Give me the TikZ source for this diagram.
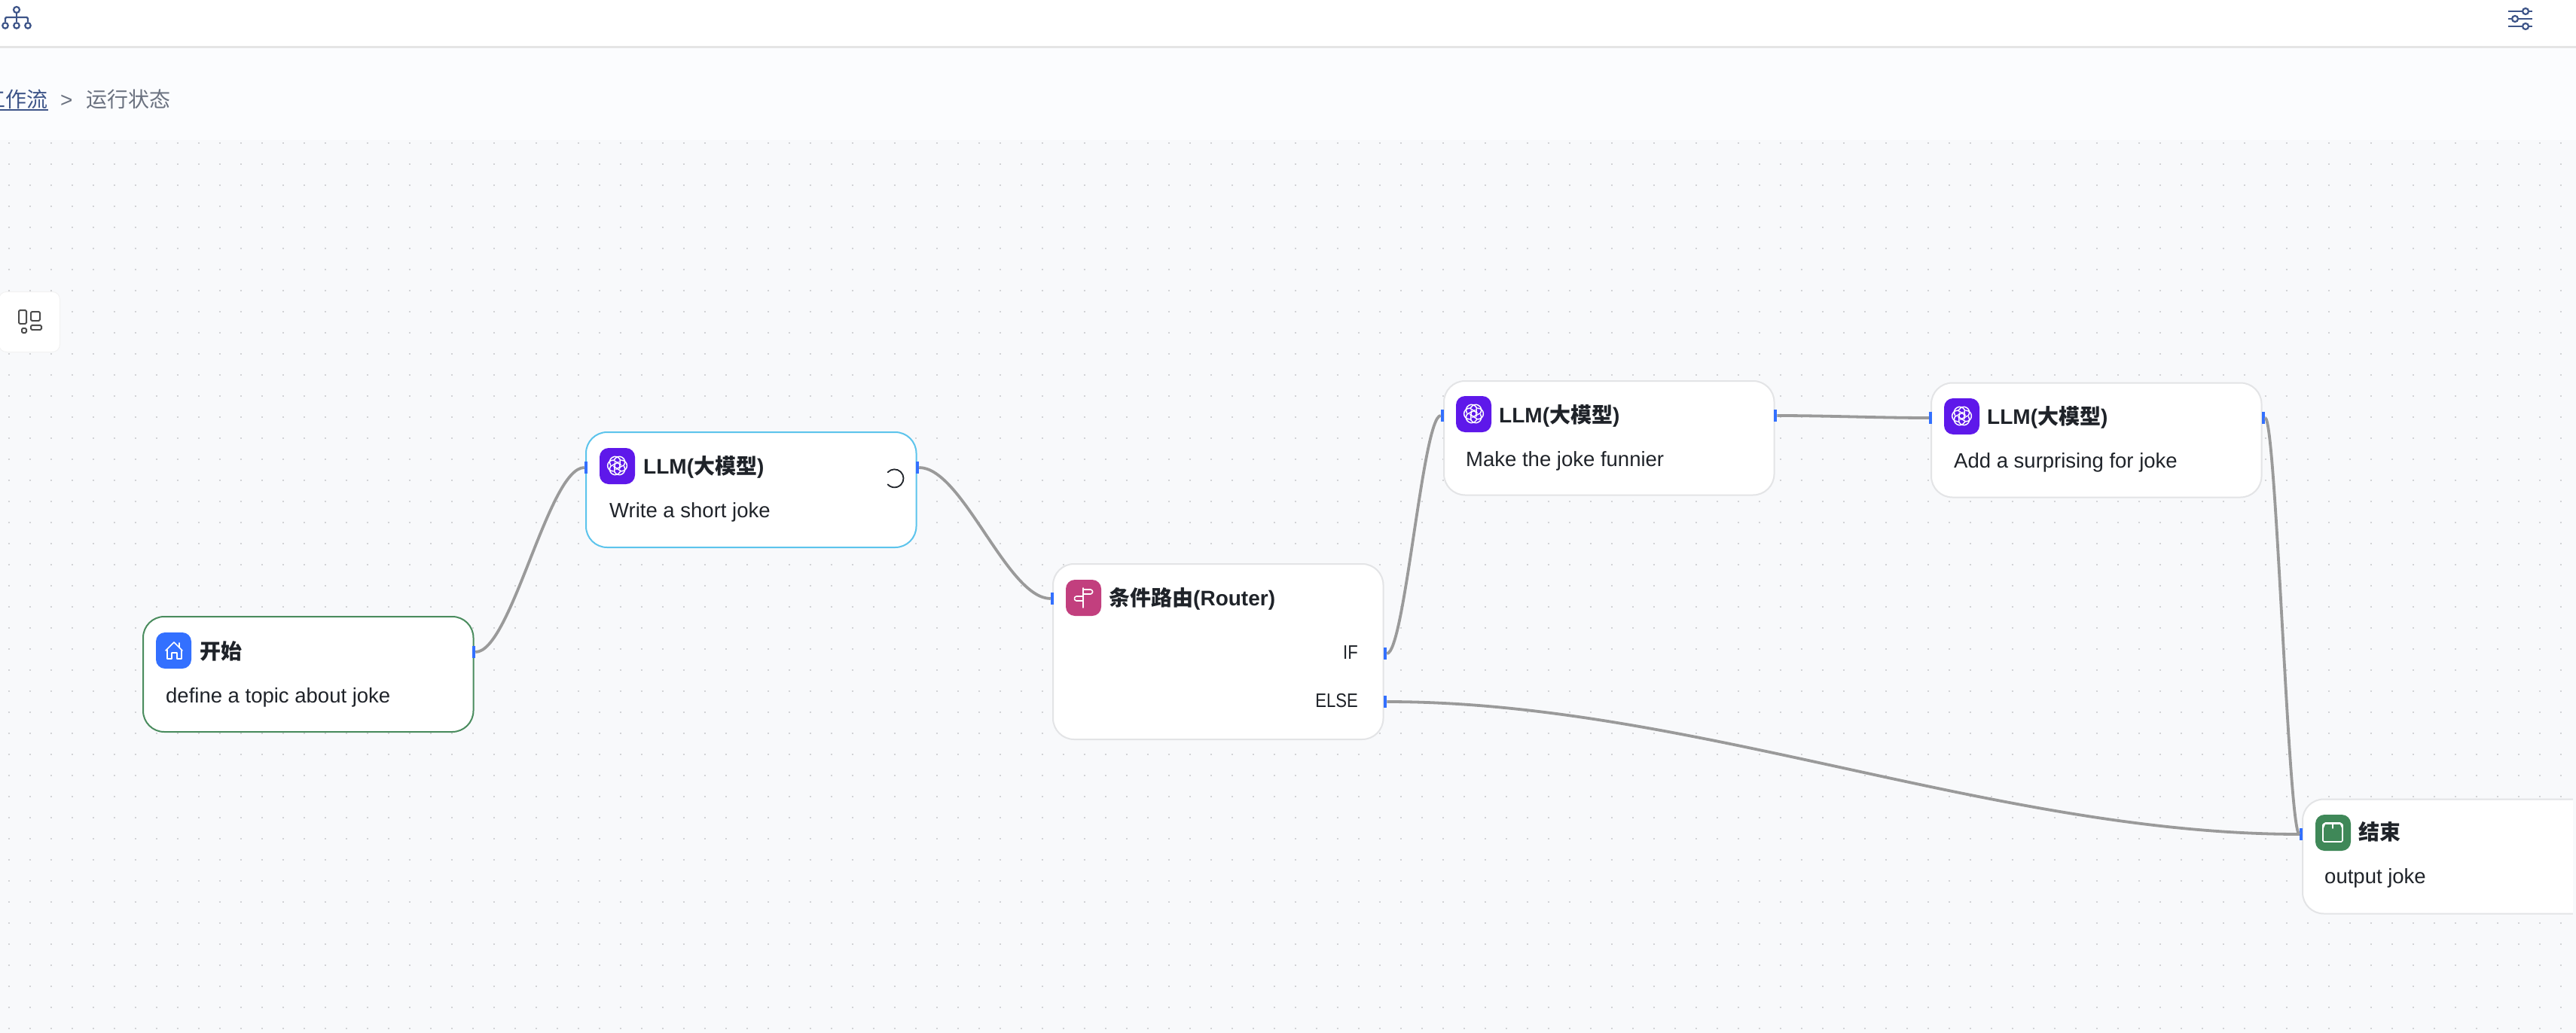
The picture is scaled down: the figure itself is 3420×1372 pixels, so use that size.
\documentclass[tikz,border=0pt]{standalone}
\usepackage{fontspec}
\setmainfont{Liberation Sans}
\newfontfamily\cjk{Noto Sans CJK SC}
\definecolor{canvasbg}{HTML}{F8F9FB}
\definecolor{pagebg}{HTML}{FBFCFE}
\definecolor{headline}{HTML}{E5E5E5}
\definecolor{navy}{HTML}{3D5488}
\definecolor{crumb}{HTML}{6B7280}
\definecolor{dotc}{HTML}{D2D3D6}
\definecolor{port}{HTML}{3370FF}
\definecolor{edgec}{HTML}{9A9A9A}
\definecolor{ink}{HTML}{1F2329}
\definecolor{cardline}{HTML}{E3E4E6}
\definecolor{okline}{HTML}{4A8C5E}
\definecolor{runline}{HTML}{5CC4EC}
\definecolor{llmc}{HTML}{5E18EA}
\definecolor{homec}{HTML}{3370FF}
\definecolor{routec}{HTML}{C23F7E}
\definecolor{endc}{HTML}{3F8858}
\tikzset{
  x=1pt,y=-1pt,
  card/.style={draw=cardline,line width=2pt,fill=white,rounded corners=28pt,inner sep=0pt,outer sep=0pt,
    minimum width=438.5pt,minimum height=152pt,anchor=north west},
  portbox/.style={fill=port,inner sep=0pt,outer sep=0pt,minimum width=4.5pt,minimum height=16pt},
  iconbox/.style={inner sep=0pt,outer sep=0pt,rounded corners=12pt,minimum width=47pt,minimum height=48pt,anchor=north west},
  title/.style={anchor=base west,inner sep=0pt,text=ink,font=\fontsize{28}{30}\selectfont\bfseries},
  desc/.style={anchor=base west,inner sep=0pt,text=ink,font=\fontsize{27.5}{30}\selectfont},
  portlabel/.style={anchor=base east,inner sep=0pt,text=ink,font=\fontsize{26}{30}\selectfont},
  link/.style={draw=edgec,line width=3.8pt},
  glyph/.style={draw=white,line width=1.6pt,line join=round,line cap=round},
  toolglyph/.style={draw=navy,line width=2.2pt},
  dotrow/.style={draw=dotc,line width=2pt,dash pattern=on 2pt off 26pt},
}
\newcommand{\openlogo}[2]{%
  \foreach \a in {0,60,120,180,240,300}{%
    \draw[glyph,line width=1.5pt,shift={(#1,#2)},rotate=\a] (-55:9) .. controls (-25:17) and (25:17) .. (55:9) -- (170:5);}%
}
\begin{document}
\begin{tikzpicture}
\useasboundingbox (0,0) rectangle (3420,1372);
\fill[white] (0,0) rectangle (3420,62);
\fill[pagebg] (0,62) rectangle (3420,186);
\fill[canvasbg] (0,186) rectangle (3420,1372);
\fill[headline] (0,61.5) rectangle (3420,64);
% dot grid
\foreach \r in {0,...,42}{\draw[dotrow] (10.7,190+28*\r) -- (3420,190+28*\r);}
% header icons
\node[circle,draw=navy,line width=2.2pt,minimum size=8pt,inner sep=0pt] (ttop) at (22,13) {};
\node[circle,draw=navy,line width=2.2pt,minimum size=7.5pt,inner sep=0pt] (tl) at (7,34) {};
\node[circle,draw=navy,line width=2.2pt,minimum size=7.5pt,inner sep=0pt] (tm) at (22,34) {};
\node[circle,draw=navy,line width=2.2pt,minimum size=7.5pt,inner sep=0pt] (tr) at (37,34) {};
\draw[toolglyph] (ttop.south) -- (tm.north);
\draw[toolglyph,rounded corners=1.5pt] (tl.north) -- (7,23) -- (37,23) -- (tr.north);
\draw[toolglyph] (3330,15) -- (3362,15) (3330,25) -- (3362,25) (3330,35) -- (3362,35);
\foreach \px/\py in {3353/15,3339/25,3353/35}{\filldraw[draw=navy,fill=white,line width=2.2pt] (\px,\py) circle (4pt);}
% breadcrumb
\node[anchor=base east,inner sep=0pt,text=navy,font=\fontsize{28}{30}\selectfont\cjk] (crumbA) at (63.5,143) {工作流};
\draw[navy,line width=1.6pt] (0,146) -- (63.5,146);
\node[anchor=base west,inner sep=0pt,text=crumb,font=\fontsize{28}{30}\selectfont] (crumbS) at (80,143) {>};
\node[anchor=base west,inner sep=0pt,text=crumb,font=\fontsize{28}{30}\selectfont\cjk] (crumbB) at (114,143) {运行状态};
% side widget
\node[draw=black!5,line width=1pt,fill=white,rounded corners=10pt,minimum width=81pt,minimum height=80pt,inner sep=0pt,anchor=north west] (widget) at (-2,387) {};
\begin{scope}[draw=black!70,line width=2pt,rounded corners=1.5pt]
\draw (25,412) rectangle (35,430);
\draw (41,414) rectangle (53,426);
\draw (41,432) rectangle (55,438);
\draw (29,436) rectangle (35,442);
\end{scope}
% cards
\node[card,draw=okline,minimum height=153pt] (start) at (190,819) {};
\node[card,draw=runline,minimum height=153pt] (llma) at (778,574) {};
\node[card,minimum height=233pt] (router) at (1398,749) {};
\node[card,minimum height=151.5pt] (llmb) at (1917,506) {};
\node[card] (llmc) at (2564,508.5) {};
\node[card] (finish) at (3057,1061.5) {};
\fill[canvasbg] (3416,1050) rectangle (3420,1225);
% ports
\node[portbox] (startR) at (629,866) {};
\node[portbox] (llmaL) at (778,621) {};
\node[portbox] (llmaR) at (1218,621) {};
\node[portbox] (routerL) at (1397,795) {};
\node[portbox] (routerIf) at (1839,868) {};
\node[portbox] (routerElse) at (1839,932) {};
\node[portbox] (llmbL) at (1915,552) {};
\node[portbox] (llmbR) at (2357,552) {};
\node[portbox] (llmcL) at (2563,555) {};
\node[portbox] (llmcR) at (3005,555) {};
\node[portbox] (finishL) at (3055,1108) {};
% connectors
\draw[link] (startR.east) .. controls (679,866) and (728,621) .. (llmaL.west);
\draw[link] (llmaR.east) .. controls (1278,621) and (1337,795) .. (routerL.west);
\draw[link] (routerIf.east) .. controls (1865,868) and (1889,552) .. (llmbL.west);
\draw[link] (llmbR.east) .. controls (2427,552) and (2494,555) .. (llmcL.west);
\draw[link] (llmcR.east) .. controls (3022,555) and (3038,1108) .. (finishL.west);
\draw[link] (routerElse.east) .. controls (2245,932) and (2649,1108) .. (finishL.west);
% icons
\node[iconbox,fill=homec] (iconStart) at (207,840) {};
\draw[glyph] (220,864) -- (231,853) -- (242,864) (238,860) -- (238,854) (222,863) -- (222,875) -- (228,875) -- (228,867) -- (235,867) -- (235,875) -- (241,875) -- (241,863);
\node[iconbox,fill=llmc] (iconA) at (796,595) {};
\openlogo{819.5}{618.5}
\node[iconbox,fill=llmc] (iconB) at (1933,526) {};
\openlogo{1956.5}{549.5}
\node[iconbox,fill=llmc] (iconC) at (2581,529) {};
\openlogo{2604.5}{552.5}
\node[iconbox,fill=routec] (iconR) at (1415,770) {};
\draw[glyph] (1438,781) -- (1438,807);
\draw[glyph,rounded corners=1pt] (1438,783) -- (1449,783) -- (1451,786) -- (1449,789) -- (1438,789);
\draw[glyph,rounded corners=1pt] (1438,792) -- (1428,792) -- (1426,795) -- (1428,798) -- (1438,798);
\node[iconbox,fill=endc] (iconE) at (3074,1082) {};
\draw[glyph,rounded corners=1.5pt] (3084,1118) rectangle (3110,1094);
\draw[glyph] (3084,1100) -- (3087,1093) -- (3107,1093) -- (3110,1100) (3097,1093) -- (3097,1100);
% spinner
\draw[draw=ink,line width=1.8pt,line cap=round] (1187.5,619) ++(137:12) arc[start angle=-137,end angle=138,radius=12];
% titles and descriptions
\node[title] (tStart) at (265,875) {\cjk\bfseries 开始};
\node[desc] (dStart) at (220,933) {define a topic about joke};
\node[title] (tA) at (854,629) {LLM({\cjk\bfseries 大模型})};
\node[desc] (dA) at (809,687) {Write a short joke};
\node[title] (tR) at (1472,804) {{\cjk\bfseries 条件路由}(Router)};
\node[portlabel] (lIf) at (1803,875) {\scalebox{.85}[1]{IF}};
\node[portlabel] (lElse) at (1803,939) {\scalebox{.85}[1]{ELSE}};
\node[title] (tB) at (1990,561) {LLM({\cjk\bfseries 大模型})};
\node[desc] (dB) at (1946,619) {Make the joke funnier};
\node[title] (tC) at (2638,563.5) {LLM({\cjk\bfseries 大模型})};
\node[desc] (dC) at (2594,621.5) {Add a surprising for joke};
\node[title] (tE) at (3131,1115) {\cjk\bfseries 结束};
\node[desc] (dE) at (3086,1173) {output joke};
\end{tikzpicture}
\end{document}
